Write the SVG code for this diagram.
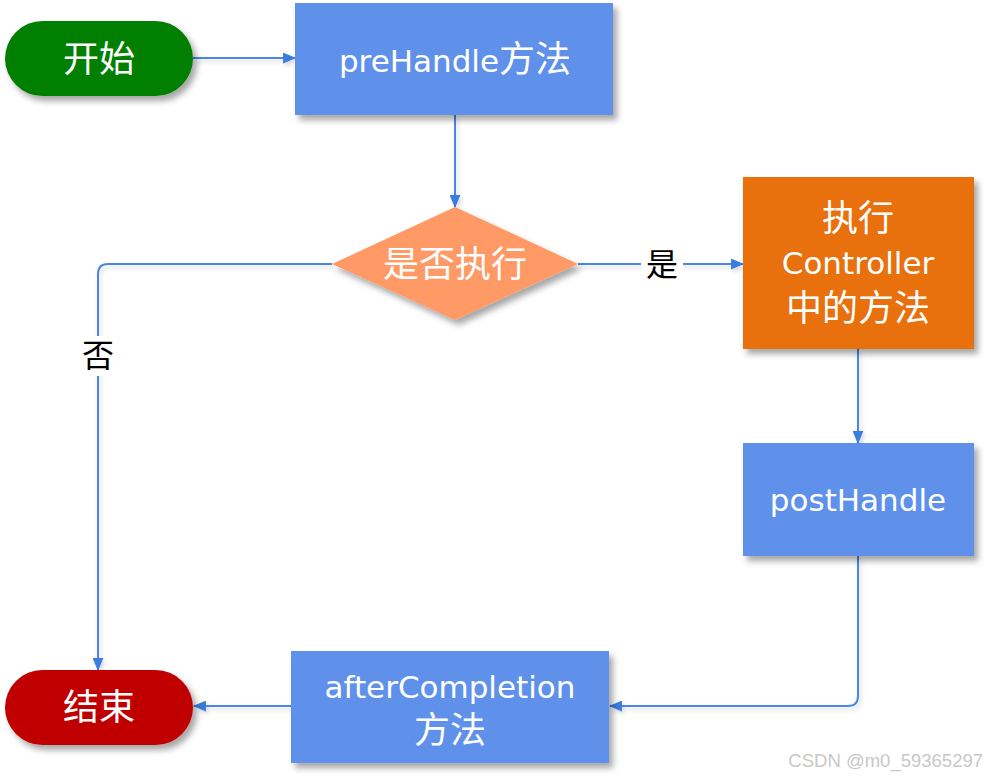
<svg xmlns="http://www.w3.org/2000/svg" width="986" height="778" viewBox="0 0 986 778">
<defs>
<filter id="sh" x="-10%" y="-10%" width="130%" height="140%">
<feDropShadow dx="4" dy="5" stdDeviation="3" flood-color="#000" flood-opacity="0.35"/>
</filter>
<filter id="lsh" x="-10%" y="-10%" width="130%" height="130%">
<feDropShadow dx="2" dy="3" stdDeviation="2" flood-color="#000" flood-opacity="0.15"/>
</filter>
<marker id="arr" viewBox="0 0 12 10" refX="11" refY="5" markerWidth="13" markerHeight="11" markerUnits="userSpaceOnUse" orient="auto">
<path d="M0,0 L12,5 L0,10 Z" fill="#3a7be0"/>
</marker>
<style>
.c{fill:none;stroke:#4a86e8;stroke-width:2;marker-end:url(#arr)}
.t{fill:#fff;text-anchor:middle;font-family:"DejaVu Sans","Noto Sans CJK SC",sans-serif;font-size:31px}
.z{font-family:"Noto Sans CJK SC",sans-serif;font-size:36px}
.lb{fill:#000;text-anchor:middle;font-family:"Noto Sans CJK SC",sans-serif;font-size:32px}
.blue{fill:#5e91ea}
</style>
</defs>
<rect width="986" height="778" fill="#fff"/>
<g id="connectors">
<g filter="url(#lsh)">
<path class="c" d="M193,58 L295,58"/>
<path class="c" d="M455,115 L455,207"/>
<path class="c" d="M578,264 L743,264"/>
<path class="c" d="M332,264 L108,264 Q98,264 98,274 L98,670"/>
<path class="c" d="M858,349 L858,443"/>
<path class="c" d="M858,556 L858,696 Q858,706 848,706 L610,706"/>
<path class="c" d="M291,706 L194,706"/>
</g>
<rect x="641" y="247" width="42" height="36" fill="#fff"/>
<text class="lb" x="662" y="276">是</text>
<rect x="81" y="336" width="34" height="40" fill="#fff"/>
<text class="lb" x="98" y="367">否</text>
</g>
<g id="start">
<rect x="5" y="21" width="188" height="75" rx="37.5" fill="#007f00" filter="url(#sh)"/>
<text class="t z" x="99" y="72">开始</text>
</g>
<g id="prehandle">
<rect class="blue" x="295" y="3" width="318" height="112" filter="url(#sh)"/>
<text class="t" x="455" y="72">preHandle<tspan class="z">方法</tspan></text>
</g>
<g id="decision">
<polygon points="455,207 578,264 455,320 332,264" fill="#ff9966" filter="url(#sh)"/>
<text class="t z" x="455" y="277">是否执行</text>
</g>
<g id="controller">
<rect x="743" y="177" width="231" height="172" fill="#e8700e" filter="url(#sh)"/>
<text class="t z" x="858" y="231">执行</text>
<text class="t" x="858" y="274">Controller</text>
<text class="t z" x="858" y="321">中的方法</text>
</g>
<g id="posthandle">
<rect class="blue" x="743" y="443" width="231" height="113" filter="url(#sh)"/>
<text class="t" x="858" y="511">postHandle</text>
</g>
<g id="aftercompletion">
<rect class="blue" x="291" y="651" width="318" height="112" filter="url(#sh)"/>
<text class="t" x="450" y="698">afterCompletion</text>
<text class="t z" x="450" y="743">方法</text>
</g>
<g id="end">
<rect x="5" y="670" width="188" height="75" rx="37.5" fill="#c00000" filter="url(#sh)"/>
<text class="t z" x="99" y="720">结束</text>
</g>
<text x="983" y="767" text-anchor="end" fill="#c8c8c8" font-family="Liberation Sans, Arial, sans-serif" font-size="18.5">CSDN @m0_59365297</text>
</svg>
